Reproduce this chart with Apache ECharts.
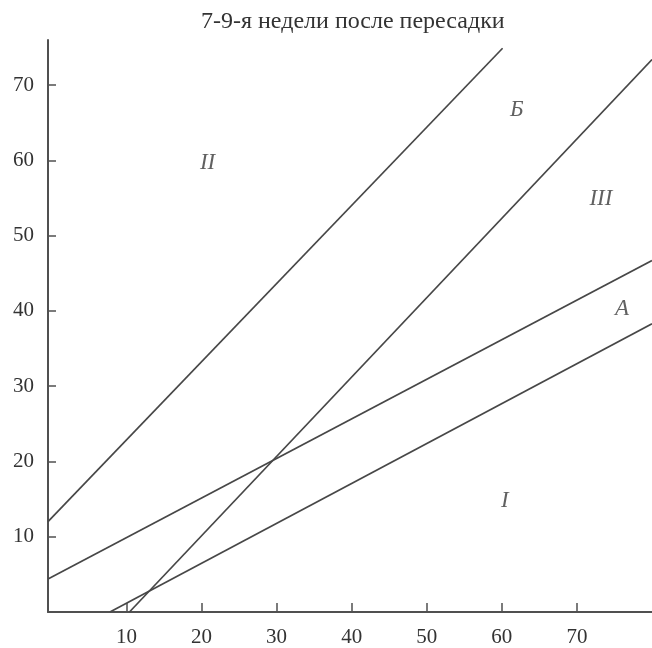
<!DOCTYPE html>
<html>
<head>
<meta charset="utf-8">
<script src="https://cdn.jsdelivr.net/npm/echarts@6/dist/echarts.min.js"></script>
<style>html,body{margin:0;padding:0;background:#fff}#c{width:652px;height:648px}</style>
</head>
<body>
<div id="c"></div>
<script>
const titleText = '7-9-я недели после пересадки';
const xTicks = [10, 20, 30, 40, 50, 60, 70];
const yTicks = [10, 20, 30, 40, 50, 60, 70];
const lineTop = [[-0.45, 12.0], [60.1, 74.9]];
const lineB = [[10.4, 0], [80, 73.4]];
const lineUpper = [[-0.45, 4.4], [80, 46.7]];
const lineLower = [[7.8, 0], [80, 38.3]];
const regionNames = ['II', 'Б', 'III', 'A', 'I'];
const regionX = [20.8, 62.0, 73.2, 76.0, 60.4];
const regionY = [59.7, 66.7, 54.9, 40.3, 14.8];

const serif = '"Liberation Serif", "DejaVu Serif", serif';
const lineColor = '#474747';
const axisColor = '#505050';

function mkLine(d) {
  return {
    type: 'line', data: d, showSymbol: false, symbol: 'none',
    lineStyle: { color: lineColor, width: 1.7 }, silent: true, z: 3
  };
}

const chart = echarts.init(document.getElementById('c'));
chart.setOption({
  animation: false,
  backgroundColor: '#fff',
  title: {
    text: titleText, left: 196, top: 5,
    textStyle: { fontFamily: serif, fontSize: 24, fontWeight: 'normal', color: '#333' }
  },
  grid: { left: 48, right: 0, top: 40, bottom: 33, containLabel: false },
  xAxis: {
    type: 'value', min: -0.45, max: 80,
    axisLine: { onZero: false, lineStyle: { color: axisColor, width: 2 } },
    axisTick: { inside: true, length: 9, customValues: xTicks, lineStyle: { color: axisColor, width: 1.5 } },
    axisLabel: { customValues: xTicks, margin: 15, fontFamily: serif, fontSize: 21, color: '#333' },
    splitLine: { show: false }
  },
  yAxis: {
    type: 'value', min: 0, max: 76,
    axisLine: { show: true, onZero: false, lineStyle: { color: axisColor, width: 2 } },
    axisTick: { show: true, inside: true, length: 8, customValues: yTicks, lineStyle: { color: axisColor, width: 1.5 } },
    axisLabel: { customValues: yTicks, margin: 14, fontFamily: serif, fontSize: 21, color: '#333' },
    splitLine: { show: false }
  },
  series: [
    mkLine(lineTop), mkLine(lineB), mkLine(lineUpper), mkLine(lineLower),
    {
      type: 'scatter', symbolSize: 0, silent: true,
      data: regionNames.map((n, i) => ({ name: n, value: [regionX[i], regionY[i]] })),
      label: {
        show: true, position: 'inside', formatter: p => p.name,
        fontFamily: serif, fontStyle: 'italic', fontSize: 23, color: '#3a3a3a'
      }
    }
  ]
});
</script>
</body>
</html>
